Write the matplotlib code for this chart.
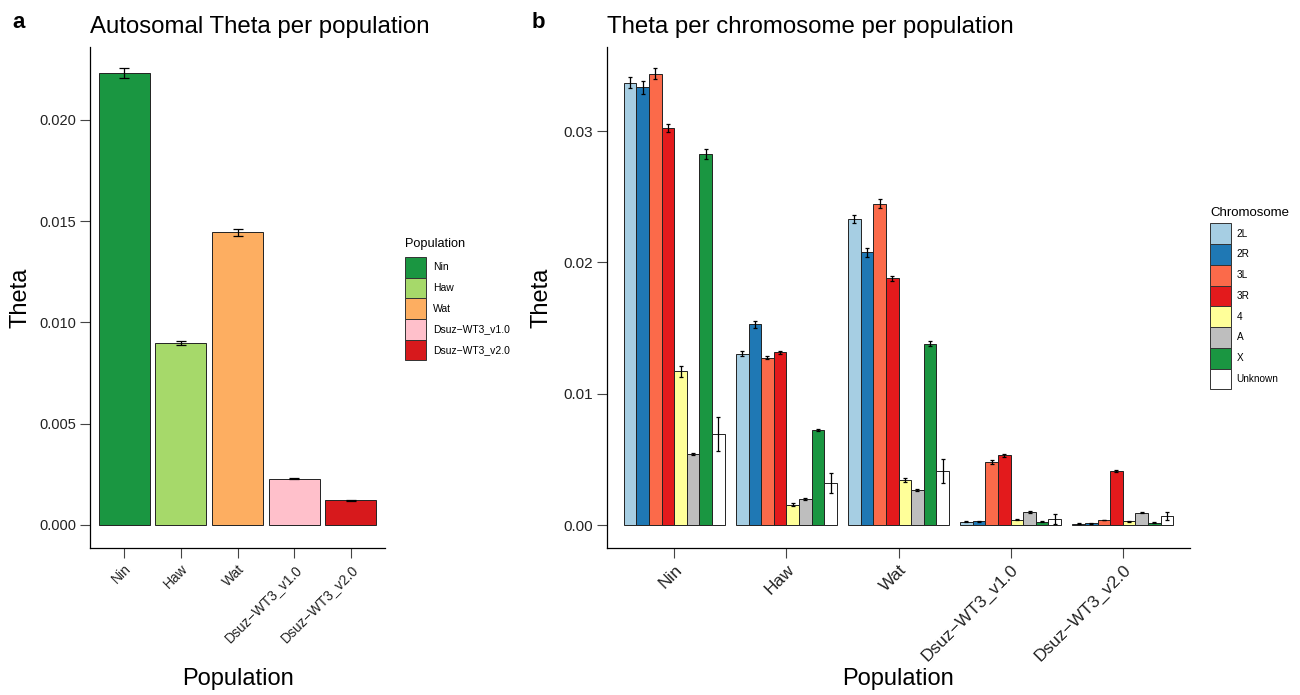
import numpy as np
import matplotlib
matplotlib.use("Agg")
import matplotlib.pyplot as plt
from matplotlib.patches import Patch

plt.rcParams['font.family'] = ['Liberation Sans', 'DejaVu Sans']

# data
populations = ["Nin", "Haw", "Wat", "Dsuz\u2212WT3_v1.0", "Dsuz\u2212WT3_v2.0"]
pop_colors = ["#1a9641", "#a6d96a", "#fdae61", "#ffc0cb", "#d7191c"]

theta_auto = [0.02231, 0.00900, 0.01445, 0.00229, 0.00122]
theta_auto_err = [0.00023, 0.00010, 0.00016, 0.00003, 0.00002]

chromosomes = ["2L", "2R", "3L", "3R", "4", "A", "X", "Unknown"]
chrom_colors = ["#a6cee3", "#1f78b4", "#fb6a4a", "#e31a1c",
                "#ffff99", "#bebebe", "#1a9641", "#ffffff"]

# theta per chromosome, one list per chromosome (order of populations)
theta_2L = [0.03369, 0.01305, 0.02330, 0.00025, 0.00010]
theta_2R = [0.03333, 0.01528, 0.02077, 0.00028, 0.00013]
theta_3L = [0.03437, 0.01274, 0.02445, 0.00480, 0.00038]
theta_3R = [0.03024, 0.01315, 0.01879, 0.00530, 0.00408]
theta_4 = [0.01170, 0.00155, 0.00340, 0.00040, 0.00028]
theta_A = [0.00540, 0.00198, 0.00267, 0.00099, 0.00094]
theta_X = [0.02826, 0.00721, 0.01381, 0.00025, 0.00018]
theta_Un = [0.00693, 0.00320, 0.00411, 0.00046, 0.00070]

err_2L = [0.00040, 0.00020, 0.00034, 0.00002, 0.00002]
err_2R = [0.00048, 0.00025, 0.00034, 0.00002, 0.00002]
err_3L = [0.00040, 0.00013, 0.00034, 0.00018, 0.00003]
err_3R = [0.00030, 0.00013, 0.00020, 0.00010, 0.00008]
err_4 = [0.00042, 0.00010, 0.00015, 0.00005, 0.00003]
err_A = [0.00010, 0.00005, 0.00005, 0.00005, 0.00005]
err_X = [0.00040, 0.00008, 0.00018, 0.00002, 0.00002]
err_Un = [0.00130, 0.00074, 0.00090, 0.00038, 0.00030]

theta_chrom = [theta_2L, theta_2R, theta_3L, theta_3R, theta_4, theta_A, theta_X, theta_Un]
err_chrom = [err_2L, err_2R, err_3L, err_3R, err_4, err_A, err_X, err_Un]

W, H = 1300, 695
fig = plt.figure(figsize=(13, 6.95), dpi=100)

ax1 = fig.add_axes([90 / W, 1 - 548 / H, (385 - 90) / W, (548 - 47) / H])
ax2 = fig.add_axes([607 / W, 1 - 548 / H, (1190 - 607) / W, (548 - 47) / H])

edge = "#222222"
tick_col = "#222222"


def style_axis(ax):
    for s in ["top", "right"]:
        ax.spines[s].set_visible(False)
    for s in ["left", "bottom"]:
        ax.spines[s].set_color("black")
        ax.spines[s].set_linewidth(0.9)
    ax.tick_params(axis="both", length=7, width=0.8, color="#444444",
                   labelcolor=tick_col, pad=3)


# panel a
x = np.arange(len(populations))
ax1.bar(x, theta_auto, width=0.9, color=pop_colors, edgecolor=edge, linewidth=0.7,
        yerr=theta_auto_err, capsize=3.8,
        error_kw=dict(elinewidth=0.9, capthick=0.9, ecolor="black"))
ax1.set_xlim(-0.6, len(populations) - 0.4)
ax1.set_ylim(-0.001136, 0.0236)
ax1.set_yticks([0.0, 0.005, 0.010, 0.015, 0.020])
ax1.set_yticklabels(["0.000", "0.005", "0.010", "0.015", "0.020"], fontsize=10.5)
ax1.set_xticks(x)
ax1.set_xticklabels(populations, fontsize=10, rotation=45, ha="right", va="top",
                    rotation_mode="anchor")
style_axis(ax1)
ax1.set_title("Autosomal Theta per population", loc="left", fontsize=17.3, pad=10)
ax1.set_ylabel("Theta", fontsize=17)
ax1.yaxis.set_label_coords(-0.197, 0.5)
ax1.set_xlabel("Population", fontsize=17)
ax1.xaxis.set_label_coords(0.5, -0.24)

leg1 = ax1.legend(handles=[Patch(facecolor=c, edgecolor="#333333", linewidth=0.7, label=p)
                           for p, c in zip(populations, pop_colors)],
                  title="Population", loc="upper left",
                  bbox_to_anchor=(405 / W, 1 - 238 / H), bbox_transform=fig.transFigure,
                  frameon=False, fontsize=7.5, title_fontsize=9.2, alignment="left",
                  handlelength=2.0, handleheight=2.68, labelspacing=0,
                  handletextpad=0.67, borderpad=0, borderaxespad=0)
leg1._legend_box.sep = 5

# panel b
n_chr = len(chromosomes)
bw = 0.9 / n_chr
for i, (vals, errs, col, name) in enumerate(zip(theta_chrom, err_chrom, chrom_colors, chromosomes)):
    ax2.bar(x + (i - (n_chr - 1) / 2) * bw, vals, width=bw, color=col, edgecolor=edge,
            linewidth=0.7, label=name, yerr=errs, capsize=1.3,
            error_kw=dict(elinewidth=0.9, capthick=0.9, ecolor="black"))
ax2.set_xlim(-0.6, len(populations) - 0.4)
ax2.set_ylim(-0.00175, 0.0364)
ax2.set_yticks([0.0, 0.01, 0.02, 0.03])
ax2.set_yticklabels(["0.00", "0.01", "0.02", "0.03"], fontsize=11)
ax2.set_xticks(x)
ax2.set_xticklabels(populations, fontsize=12.5, rotation=45, ha="right", va="top",
                    rotation_mode="anchor")
style_axis(ax2)
ax2.set_title("Theta per chromosome per population", loc="left", fontsize=17.3, pad=10)
ax2.set_ylabel("Theta", fontsize=17)
ax2.yaxis.set_label_coords(-0.094, 0.5)
ax2.set_xlabel("Population", fontsize=17)
ax2.xaxis.set_label_coords(0.5, -0.24)

leg2 = ax2.legend([Patch(facecolor=c, edgecolor="#333333", linewidth=0.7) for c in chrom_colors],
                  chromosomes, title="Chromosome", loc="upper left",
                  bbox_to_anchor=(1210 / W, 1 - 207 / H), bbox_transform=fig.transFigure,
                  frameon=False, fontsize=7.2, title_fontsize=9.5, alignment="left",
                  handlelength=2.05, handleheight=2.82, labelspacing=0,
                  handletextpad=0.6, borderpad=0, borderaxespad=0)
leg2._legend_box.sep = 3

# panel letters
fig.text(12 / W, 1 - 22 / H, "a", fontsize=16, fontweight="bold", va="center", ha="left")
fig.text(532 / W, 1 - 22 / H, "b", fontsize=16, fontweight="bold", va="center", ha="left")

fig.savefig("out.png", dpi=100, facecolor="white")
